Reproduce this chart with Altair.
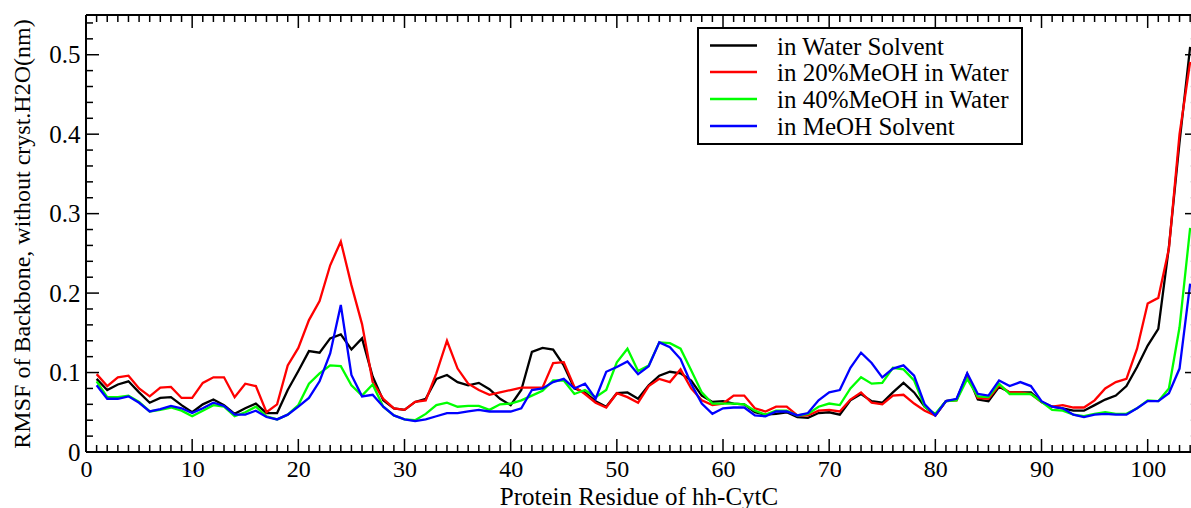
import altair as alt
import pandas as pd

residues = list(range(1, 105))

water = [0.092, 0.078, 0.085, 0.089, 0.075, 0.062, 0.068, 0.069, 0.059, 0.050,
         0.060, 0.066, 0.059, 0.048, 0.055, 0.061, 0.049, 0.049, 0.078, 0.102,
         0.127, 0.125, 0.143, 0.148, 0.129, 0.143, 0.095, 0.065, 0.055, 0.053,
         0.063, 0.067, 0.092, 0.097, 0.088, 0.084, 0.087, 0.079, 0.067, 0.059,
         0.078, 0.126, 0.131, 0.129, 0.109, 0.080, 0.075, 0.064, 0.057, 0.074,
         0.075, 0.067, 0.084, 0.096, 0.101, 0.099, 0.090, 0.071, 0.063, 0.064,
         0.061, 0.060, 0.050, 0.047, 0.048, 0.050, 0.044, 0.043, 0.049, 0.050,
         0.047, 0.065, 0.073, 0.064, 0.062, 0.075, 0.087, 0.075, 0.057, 0.046,
         0.064, 0.066, 0.098, 0.066, 0.064, 0.082, 0.075, 0.075, 0.075, 0.063,
         0.057, 0.055, 0.052, 0.052, 0.059, 0.066, 0.071, 0.083, 0.107, 0.134,
         0.155, 0.258, 0.390, 0.510]

meoh20 = [0.098, 0.083, 0.094, 0.096, 0.080, 0.070, 0.081, 0.082, 0.068, 0.068,
          0.087, 0.094, 0.094, 0.069, 0.086, 0.083, 0.050, 0.060, 0.109, 0.131,
          0.166, 0.190, 0.235, 0.265, 0.210, 0.161, 0.088, 0.067, 0.055, 0.053,
          0.063, 0.065, 0.099, 0.140, 0.105, 0.086, 0.078, 0.072, 0.075, 0.078,
          0.081, 0.081, 0.081, 0.112, 0.113, 0.082, 0.073, 0.062, 0.056, 0.074,
          0.069, 0.062, 0.083, 0.092, 0.088, 0.104, 0.080, 0.065, 0.059, 0.061,
          0.071, 0.071, 0.055, 0.051, 0.057, 0.057, 0.046, 0.046, 0.052, 0.053,
          0.051, 0.066, 0.075, 0.062, 0.060, 0.071, 0.072, 0.061, 0.052, 0.046,
          0.064, 0.065, 0.098, 0.068, 0.067, 0.084, 0.075, 0.075, 0.073, 0.063,
          0.057, 0.059, 0.056, 0.056, 0.065, 0.080, 0.088, 0.092, 0.130, 0.187,
          0.194, 0.256, 0.400, 0.491]

meoh40 = [0.089, 0.069, 0.069, 0.071, 0.063, 0.051, 0.053, 0.056, 0.052, 0.045,
          0.052, 0.059, 0.057, 0.045, 0.050, 0.057, 0.045, 0.041, 0.047, 0.059,
          0.086, 0.099, 0.109, 0.108, 0.084, 0.071, 0.085, 0.057, 0.046, 0.041,
          0.040, 0.048, 0.059, 0.062, 0.057, 0.058, 0.058, 0.053, 0.060, 0.061,
          0.065, 0.071, 0.077, 0.090, 0.090, 0.073, 0.078, 0.069, 0.078, 0.113,
          0.130, 0.102, 0.109, 0.138, 0.137, 0.130, 0.103, 0.075, 0.061, 0.061,
          0.061, 0.060, 0.052, 0.047, 0.052, 0.052, 0.046, 0.048, 0.057, 0.061,
          0.059, 0.080, 0.094, 0.086, 0.087, 0.106, 0.104, 0.090, 0.057, 0.048,
          0.064, 0.065, 0.092, 0.070, 0.069, 0.086, 0.073, 0.073, 0.073, 0.063,
          0.053, 0.052, 0.047, 0.045, 0.048, 0.050, 0.048, 0.048, 0.055, 0.065,
          0.064, 0.080, 0.157, 0.282]

meoh = [0.084, 0.067, 0.067, 0.070, 0.062, 0.051, 0.054, 0.058, 0.055, 0.049,
        0.055, 0.062, 0.058, 0.047, 0.047, 0.052, 0.044, 0.041, 0.047, 0.057,
        0.068, 0.089, 0.124, 0.185, 0.097, 0.070, 0.072, 0.057, 0.046, 0.041,
        0.039, 0.041, 0.045, 0.049, 0.049, 0.051, 0.053, 0.051, 0.051, 0.051,
        0.055, 0.078, 0.080, 0.088, 0.092, 0.080, 0.086, 0.067, 0.101, 0.107,
        0.114, 0.098, 0.108, 0.138, 0.132, 0.117, 0.086, 0.061, 0.048, 0.055,
        0.056, 0.056, 0.046, 0.045, 0.051, 0.051, 0.046, 0.049, 0.065, 0.075,
        0.078, 0.106, 0.125, 0.112, 0.094, 0.105, 0.109, 0.096, 0.060, 0.046,
        0.064, 0.067, 0.099, 0.073, 0.071, 0.090, 0.083, 0.088, 0.083, 0.064,
        0.057, 0.055, 0.047, 0.044, 0.047, 0.048, 0.047, 0.047, 0.055, 0.064,
        0.064, 0.074, 0.105, 0.212]

series_names = ["in Water Solvent", "in 20%MeOH in Water",
                "in 40%MeOH in Water", "in MeOH Solvent"]
series_colors = ["#000000", "#ff0000", "#00ff00", "#0000ff"]
series_values = [water, meoh20, meoh40, meoh]

x_major = list(range(0, 101, 10))
x_minor = [i for i in range(1, 105) if i % 10 != 0]
y_major = [0.0, 0.1, 0.2, 0.3, 0.4, 0.5]
y_minor = [round(0.02 * i, 2) for i in range(1, 28) if i % 5 != 0]

W, H = 1105, 437
X_MAX = 104.08
Y_MAX = 0.55
FONT = "Liberation Serif"

rows = []
for order, (name, vals) in enumerate(zip(series_names, series_values)):
    for r, v in zip(residues, vals):
        rows.append({"residue": r, "rmsf": v, "series": name, "order": order})
df = pd.DataFrame(rows)

xscale = alt.Scale(domain=[0, X_MAX], nice=False, zero=False)
yscale = alt.Scale(domain=[0, Y_MAX], nice=False, zero=True)

x_axis = alt.Axis(values=x_major, ticks=False, domain=False, grid=False,
                  labelFont=FONT, labelFontSize=24, labelColor="black",
                  labelPadding=5, labelFlush=False,
                  title="Protein Residue of hh-CytC", titleFont=FONT,
                  titleFontSize=25, titleFontWeight="normal",
                  titleColor="black", titlePadding=3)
y_axis = alt.Axis(values=y_major, ticks=False, domain=False, grid=False,
                  format="~g", labelFont=FONT, labelFontSize=25,
                  labelColor="black", labelPadding=6, labelFlush=False,
                  title="RMSF of Backbone, without cryst.H2O(nm)",
                  titleFont=FONT, titleFontSize=24,
                  titleFontWeight="normal", titleColor="black",
                  titlePadding=14)

X = alt.X("residue:Q", scale=xscale, axis=x_axis)
Y = alt.Y("rmsf:Q", scale=yscale, axis=y_axis)

lines = alt.Chart(df).mark_line(strokeWidth=2.3).encode(
    x=X, y=Y,
    color=alt.Color("series:N",
                    scale=alt.Scale(domain=series_names, range=series_colors),
                    sort=series_names, legend=None),
    order=alt.Order("order:Q"),
)

df_xmaj = pd.DataFrame({"residue": x_major})
df_xmin = pd.DataFrame({"residue": x_minor})
df_ymaj = pd.DataFrame({"rmsf": y_major})
df_ymin = pd.DataFrame({"rmsf": y_minor})

tick = dict(color="black", strokeWidth=1.5)


def xticks(df_, length):
    bottom = alt.Chart(df_).mark_rule(**tick).encode(
        x=X, y=alt.value(H), y2=alt.value(H - length))
    top = alt.Chart(df_).mark_rule(**tick).encode(
        x=X, y=alt.value(0), y2=alt.value(length))
    return [bottom, top]


def yticks(df_, length, right_len):
    left = alt.Chart(df_).mark_rule(**tick).encode(
        y=Y, x=alt.value(0), x2=alt.value(length))
    right = alt.Chart(df_).mark_rule(**tick).encode(
        y=Y, x=alt.value(W), x2=alt.value(W - right_len))
    return [left, right]


one = pd.DataFrame({"k": [0]})
frame = [
    alt.Chart(one).mark_rule(color="black", strokeWidth=2).encode(
        x=alt.value(0), y=alt.value(0), y2=alt.value(H)),
    alt.Chart(one).mark_rule(color="black", strokeWidth=2).encode(
        x=alt.value(0), x2=alt.value(W), y=alt.value(0)),
    alt.Chart(one).mark_rule(color="black", strokeWidth=2).encode(
        x=alt.value(0), x2=alt.value(W), y=alt.value(H)),
]

# legend box (pixel positions inside the plot area)
LX0, LX1, LY0, LY1 = 612, 936, 13, 129
row_y = [30.5, 57, 84, 111]
legend = [alt.Chart(one).mark_rect(fill="white", stroke="black", strokeWidth=2).encode(
    x=alt.value(LX0), x2=alt.value(LX1), y=alt.value(LY0), y2=alt.value(LY1))]
for name, col, ry in zip(series_names, series_colors, row_y):
    d = pd.DataFrame({"series": [name]})
    legend.append(alt.Chart(d).mark_rule(color=col, strokeWidth=2.3).encode(
        x=alt.value(624), x2=alt.value(671), y=alt.value(ry)))
    legend.append(alt.Chart(d).mark_text(align="left", baseline="middle",
                                         font=FONT, fontSize=25, color="black").encode(
        x=alt.value(691), y=alt.value(ry + 1), text=alt.Text("series:N")))

layers = [lines]
layers += xticks(df_xmaj, 13) + xticks(df_xmin, 7)
layers += yticks(df_ymaj, 13, 6) + yticks(df_ymin, 7, 0.1)
layers += frame + legend

chart = alt.layer(*layers).properties(
    width=W, height=H,
    autosize=alt.AutoSizeParams(type="none"),
    padding={"left": 86, "top": 15, "right": 0, "bottom": 56},
    background="white",
).configure_view(stroke=None)

chart.save("out.html", embed_options={"renderer": "svg", "actions": False})
